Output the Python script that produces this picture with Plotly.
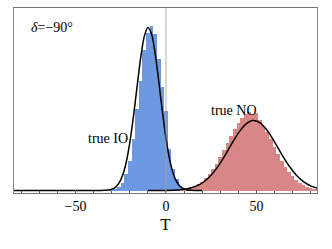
import plotly.graph_objects as go

# Histogram bin centres (width 2) and heights
io_bins = [-30, -28, -26, -24, -22, -20, -18, -16, -14, -12, -10, -8, -6, -4, -2, 0, 2, 4, 6, 8, 10, 12]
io_counts = [0.5, 1.5, 3.5, 8, 17, 30, 52, 82, 110, 141, 158, 165, 157, 132, 104, 80, 42, 22, 12, 5, 2, 0.8]

no_bins = [6, 8, 10, 12, 14, 16, 18, 20, 22, 24, 26, 28, 30, 32, 34, 36, 38, 40, 42, 44,
           46, 48, 50, 52, 54, 56, 58, 60, 62, 64, 66, 68, 70, 72, 74, 76, 78, 80, 82, 84]
no_counts = [0.5, 0.8, 1.3, 2.0, 3.1, 4.5, 6.5, 9.0, 12.3, 16.4, 21.4, 27, 33.6, 40.6, 47.8, 55, 61.8, 67.7, 73, 77,
             79, 76.5, 78, 71, 65, 58.5, 51.6, 44, 37, 30, 24, 18.8, 14.3, 10.6, 7.6, 5.4, 3.7, 2.5, 1.6, 1.0]

# Fitted curves (sampled)
io_curve_T = [-84, -40, -36, -34, -32, -30, -28, -26, -24, -22, -20, -18, -16, -14, -12, -10, -8, -6, -4, -2,
              0, 2, 4, 6, 8, 10, 12, 14, 16, 20]
io_curve_y = [0, 0, 0.05, 0.16, 0.48, 1.3, 3.2, 7.3, 15, 28, 47.6, 73.6, 103.4, 132.3, 153.9, 163, 156.8, 137.4, 109.5, 79.4,
              52.3, 31.3, 17.1, 8.5, 3.8, 1.6, 0.6, 0.2, 0.05, 0]

no_curve_T = [-10, 0, 4, 6, 8, 10, 12, 14, 16, 18, 20, 24, 28, 32, 36, 40, 44, 48, 52, 56, 60, 64, 68, 72, 76, 80, 84]
no_curve_y = [0, 0.1, 0.3, 0.5, 0.78, 1.2, 1.8, 2.7, 3.9, 5.5, 7.5, 13.5, 22.1, 33.2, 45.6, 57.4, 66.2, 70, 67.7, 60,
              48.7, 36.2, 24.7, 15.4, 8.8, 4.6, 2.2]

x_range = [-84, 83.5]
y_range = [-2.5, 182.5]

FONT = "Liberation Serif"

fig = go.Figure()
fig.add_trace(go.Bar(x=io_bins, y=io_counts, width=2, marker=dict(color="#6e99e0", line=dict(width=0)),
                     showlegend=False))
fig.add_trace(go.Bar(x=no_bins, y=no_counts, width=2, marker=dict(color="#d98686", line=dict(width=0)),
                     showlegend=False))
fig.add_trace(go.Scatter(x=io_curve_T, y=io_curve_y, mode="lines", line=dict(color="black", width=1.5, shape="spline", smoothing=0.8),
                         showlegend=False))
fig.add_trace(go.Scatter(x=no_curve_T, y=no_curve_y, mode="lines", line=dict(color="black", width=1.5, shape="spline", smoothing=0.8),
                         showlegend=False))

fig.add_shape(type="line", x0=0, x1=0, y0=0, y1=1, xref="x", yref="paper",
              line=dict(color="rgba(160,160,160,0.55)", width=1.5), layer="above")

fig.add_annotation(x=-63, y=163.5, xref="x", yref="y", text="<i>δ</i>=−90°", showarrow=False,
                   font=dict(family=FONT, size=14, color="black"))
fig.add_annotation(x=-31.8, y=52.5, xref="x", yref="y", text="true IO", showarrow=False,
                   font=dict(family=FONT, size=14, color="black"))
fig.add_annotation(x=37.8, y=80.5, xref="x", yref="y", text="true NO", showarrow=False,
                   font=dict(family=FONT, size=14, color="black"))

fig.update_layout(
    width=332, height=249,
    margin=dict(l=14, r=15, t=8, b=56, autoexpand=False),
    plot_bgcolor="white", paper_bgcolor="white",
    bargap=0, barmode="overlay",
    font=dict(family=FONT, size=14, color="black"),
    xaxis=dict(range=x_range, showgrid=False, zeroline=False, showline=True, mirror=True, automargin=False,
               linecolor="#777777", linewidth=1,
               tickmode="array", tickvals=[-50, 0, 50], ticktext=["−50", "0", "50"],
               ticks="inside", ticklen=3, tickcolor="#555555", tickwidth=1,
               minor=dict(ticks="inside", dtick=10, tick0=0, ticklen=2, tickcolor="#555555"),
               tickfont=dict(family=FONT, size=14, color="black"),
               title=dict(text="T", font=dict(family=FONT, size=17, color="black"), standoff=5)),
    yaxis=dict(range=y_range, showgrid=False, zeroline=False, showline=True, mirror=True, automargin=False,
               linecolor="#888888", linewidth=1, showticklabels=False, ticks=""),
)

fig.write_html("out.html", config={"displayModeBar": False},
               post_script="document.body.style.margin='0';document.body.style.overflow='hidden';")
